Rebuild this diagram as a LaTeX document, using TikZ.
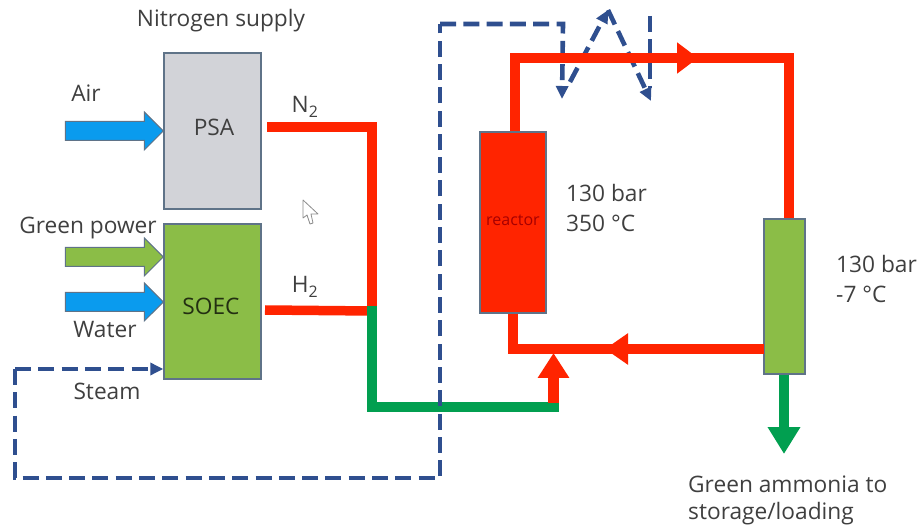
\documentclass[tikz,border=0pt]{standalone}
\usepackage{fontspec}
\setmainfont{Open Sans}
\usetikzlibrary{arrows.meta,shapes.arrows}
\definecolor{pipered}{HTML}{FF2400}
\definecolor{pipegreen}{HTML}{019F50}
\definecolor{leaf}{HTML}{8BBD47}
\definecolor{skyb}{HTML}{0A9BEE}
\definecolor{greybox}{HTML}{D2D3D8}
\definecolor{edgeb}{HTML}{5F7388}
\definecolor{dashb}{HTML}{2F4F8F}
\definecolor{ink}{HTML}{3F3F3F}
\tikzset{
  unit/.style={draw=edgeb,line width=1.4pt,inner sep=0pt},
  lbl/.style={text=ink,inner sep=0pt,font=\fontsize{22.7}{26}\selectfont},
  feed/.style={single arrow,draw=edgeb,line width=1pt,inner xsep=0pt,inner ysep=9pt,minimum height=98pt,single arrow head extend=9.5pt,anchor=tip},
  redpipe/.style={draw=pipered,line width=9.5pt,miter limit=10},
  greenpipe/.style={draw=pipegreen,line width=9.5pt},
  steamline/.style={draw=dashb,line width=4.6pt,dash pattern=on 16pt off 7.3pt},
  bigtip/.style={-{Triangle[length=#1,width=30pt]}},
  smalltip/.style={-{Triangle[length=13pt,width=12pt]}}
}
\begin{document}
\begin{tikzpicture}[x=1pt,y=-1pt]
\useasboundingbox (0,0) rectangle (921,526);
% units
\node[unit,fill=greybox,minimum width=97pt,minimum height=156pt] (psa) at (212.5,131) {};
\node[unit,fill=leaf,minimum width=97pt,minimum height=155pt] (soec) at (212.5,301.5) {};
\node[unit,fill=pipered,minimum width=66pt,minimum height=181pt] (reactor) at (513,222.5) {};
\node[unit,fill=leaf,minimum width=41pt,minimum height=155pt] (sep) at (784.5,296.5) {};
\node[lbl] at (214,127) {PSA};
\node[lbl,text=black!75!leaf] at (211,306) {SOEC};
\node[inner sep=0pt,font=\fontsize{16}{18}\selectfont,text=red!65!black] at (513,220) {reactor};
% feed arrows
\node[feed,fill=skyb] (air) at (164,131) {};
\node[feed,fill=leaf] (power) at (164,257) {};
\node[feed,fill=skyb] (water) at (164,302) {};
% junctions and pipes
\coordinate (n2s) at (267,127);
\coordinate (n2c) at (372,127);
\coordinate (j) at (372,311);
\coordinate (h2s) at (265,310);
\coordinate (gc) at (372,407);
\coordinate (ge) at (559,407);
\coordinate (up) at (553.5,403);
\coordinate (uptip) at (553.5,353);
\draw[redpipe] (n2s) -- (n2c) -- ([yshift=-2pt]j);
\draw[redpipe] (h2s) -- (j);
\draw[greenpipe] (372,306) -- (gc) -- (ge);
\draw[redpipe,line width=11pt,bigtip=25pt] (up) -- (uptip);
% steam and heat tracing
\coordinate (st1) at (15,369);
\coordinate (st2) at (15,478);
\coordinate (st3) at (440,478);
\coordinate (st4) at (440,24);
\coordinate (st5) at (563,24);
\coordinate (st6) at (562,99);
\coordinate (z0) at (570,82);
\coordinate (z1) at (608,10);
\coordinate (z2) at (651,101);
\coordinate (z3) at (650,16);
\coordinate (z4) at (650,88);
\draw[steamline,smalltip] (st4) -- (st5) -- (st6);
\draw[steamline] (st1) -- (st2) -- (st3) -- (st4);
\draw[steamline,smalltip] (st1) -- (soec.west |- st1);
\draw[steamline,smalltip] (z0) -- (z1);
\draw[steamline,smalltip] (z1) -- (z2);
\draw[steamline] (z3) -- (z4);
% reactor loop
\coordinate (a) at (515,58);
\coordinate (tr) at (789,58);
\coordinate (topt) at (698,58);
\coordinate (topb) at (670,58);
\coordinate (sl) at (764,349);
\coordinate (bott) at (605,349);
\coordinate (botb) at (635,349);
\coordinate (bl) at (513,349);
\draw[redpipe] (reactor.north -| a) -- (a) -- (tr) -- (sep.north -| tr);
\draw[redpipe,bigtip=21pt] (topb) -- (topt);
\draw[redpipe] (sl) -- (bl) -- (reactor.south -| bl);
\draw[redpipe,bigtip=23pt] (botb) -- (bott);
\draw[pipegreen,line width=9.5pt,-{Triangle[length=27pt,width=31pt]}] (sep.south -| 784,0) -- (784,454);
% texts
\node[lbl] at (221,21) {Nitrogen supply};
\node[lbl] at (86,93) {Air};
\node[lbl] at (305,107) {N\textsubscript{2}};
\node[lbl] at (88,228) {Green power};
\node[lbl] at (305,287) {H\textsubscript{2}};
\node[lbl] at (105,330) {Water};
\node[lbl] at (107,391) {Steam};
\node[lbl,anchor=west] at (566,193) {130 bar};
\node[lbl,anchor=west] at (566,223) {350 °C};
\node[lbl,anchor=west] at (836,264) {130 bar};
\node[lbl,anchor=west] at (836,294) {-7 °C};
\node[lbl,anchor=west] at (688,484) {Green ammonia to};
\node[lbl,anchor=west] at (688,514) {storage/loading};
% pointer
\draw[draw=black!45,fill=white,line width=0.8pt,line join=round] (303,200) -- (303,218) -- (307,215) -- (310,224) -- (313,223) -- (311,214) -- (318,214) -- cycle;
\end{tikzpicture}
\end{document}
